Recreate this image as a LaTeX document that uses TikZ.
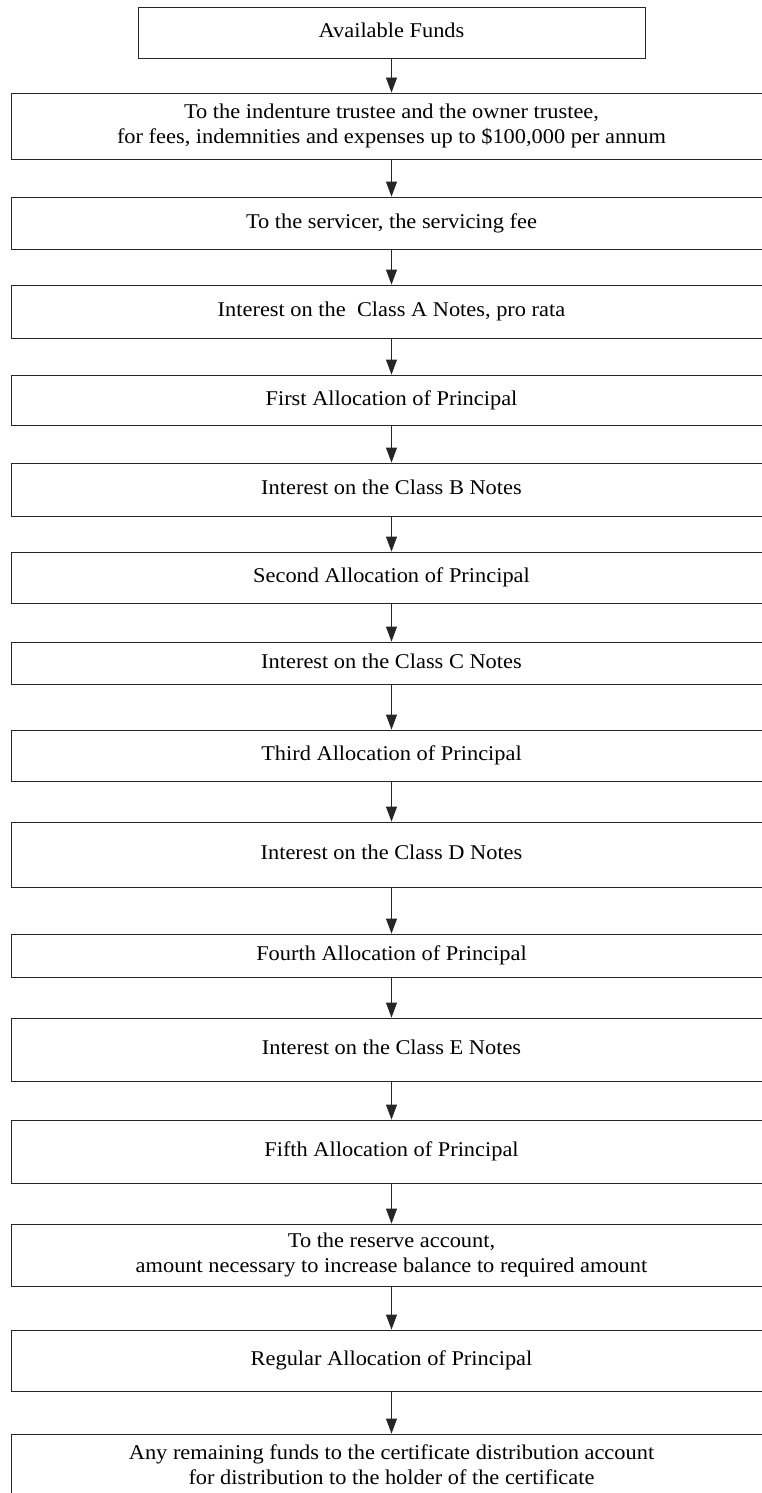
\documentclass[tikz,border=0pt]{standalone}
\usepackage{fontspec}
\usepackage{graphicx}
\setmainfont{Liberation Serif}
\usetikzlibrary{arrows.meta}
\tikzset{
  stepbox/.style={draw=black!85, line width=0.9pt, rectangle, inner sep=0pt,
    font=\fontsize{21}{25.5}\selectfont, text=black},
  flow/.style={draw=black!85, line width=0.9pt, -{Triangle[width=11pt,length=15pt]}}
}
\newcommand{\bx}[5]{% name, width, top, bottom, text
  \node[stepbox, minimum width=#2pt, minimum height={(#4-#3)*1pt}] (#1) at (391.5,{-(#3+#4)/2})
  {\scalebox{1.066}[1]{\begin{tabular}{@{}c@{}}#5\end{tabular}}};}
\begin{document}
\begin{tikzpicture}[x=1pt,y=1pt]
\useasboundingbox (0,0) rectangle (762,-1493);
\clip (0,0) rectangle (762,-1493);
\bx{b1}{507}{7}{58}{Available Funds}
\bx{b2}{761}{93}{159}{To the indenture trustee and the owner trustee,\\for fees, indemnities and expenses up to \$100,000 per annum}
\bx{b3}{761}{197}{249}{To the servicer, the servicing fee}
\bx{b4}{761}{285}{338}{Interest on the\ \ Class A Notes, pro rata}
\bx{b5}{761}{375}{425}{First Allocation of Principal}
\bx{b6}{761}{463}{516}{Interest on the Class B Notes}
\bx{b7}{761}{552}{603}{Second Allocation of Principal}
\bx{b8}{761}{642}{684}{Interest on the Class C Notes}
\bx{b9}{761}{730}{781}{Third Allocation of Principal}
\bx{b10}{761}{822}{887}{Interest on the Class D Notes}
\bx{b11}{761}{934}{977}{Fourth Allocation of Principal}
\bx{b12}{761}{1018}{1081}{Interest on the Class E Notes}
\bx{b13}{761}{1120}{1183}{Fifth Allocation of Principal}
\bx{b14}{761}{1224}{1286}{To the reserve account,\\amount necessary to increase balance to required amount}
\bx{b15}{761}{1330}{1391}{Regular Allocation of Principal}
\bx{b16}{761}{1434}{1500}{Any remaining funds to the certificate distribution account\\for distribution to the holder of the certificate}
\foreach \a/\b in {b1/b2,b2/b3,b3/b4,b4/b5,b5/b6,b6/b7,b7/b8,b8/b9,b9/b10,b10/b11,b11/b12,b12/b13,b13/b14,b14/b15,b15/b16}
  \draw[flow] (\a.south) -- (\b.north);
\end{tikzpicture}
\end{document}
